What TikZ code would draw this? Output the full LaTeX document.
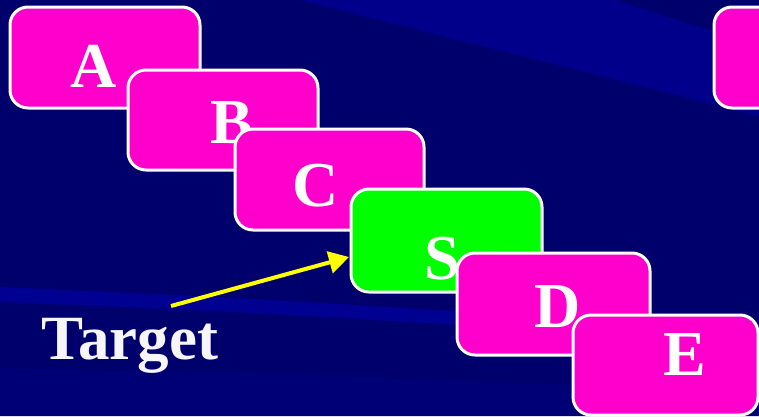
\documentclass[tikz,border=0pt]{standalone}
\usepackage{fontspec}
\setmainfont{Liberation Serif}
\usetikzlibrary{arrows.meta}

\definecolor{navy}{RGB}{0,0,108}
\definecolor{navyband}{RGB}{0,0,138}
\definecolor{navylow}{RGB}{0,0,118}
\definecolor{navystreak}{RGB}{0,0,145}
\definecolor{boxmagenta}{RGB}{255,0,204}
\definecolor{boxgreen}{RGB}{0,255,0}
\definecolor{arrowyellow}{RGB}{255,255,0}
\definecolor{offwhite}{RGB}{246,246,250}

\tikzset{
  card/.style={draw=white, line width=3pt, rounded corners=18pt},
  letter/.style={text=white, inner sep=0pt, anchor=base,
    font=\fontsize{64}{64}\selectfont\bfseries},
  pointer/.style={draw=arrowyellow, line width=4pt,
    -{Triangle[length=20pt,width=22pt]}, arrowyellow}
}

\begin{document}
\begin{tikzpicture}[x=1pt,y=-1pt]
  % backdrop and light streaks
  \fill[navy] (0,0) rectangle (759,416);
  \useasboundingbox (0,0) rectangle (759,416);
  \fill[navyband] (300,0) -- (615,0) -- (759,46) -- (759,116) -- cycle;
  \fill[navylow] (0,368) .. controls (250,372) .. (759,392) -- (759,416) -- (0,416) -- cycle;
  \fill[navystreak] (0,287) .. controls (250,298) .. (759,330)
    -- (759,344) .. controls (250,312) .. (0,302) -- cycle;

  % the row of cards, each one overlapping the previous
  \fill[boxmagenta, card] (714,7) rectangle (800,108);
  \fill[boxmagenta, card] (10,7) rectangle (200,108);
  \node[letter] (la) at (94,87) {A};
  \fill[boxmagenta, card] (128,70) rectangle (318,170);
  \node[letter] (lb) at (232,143) {B};
  \fill[boxmagenta, card] (235,129) rectangle (424,230);
  \node[letter] (lc) at (316,206) {C};
  \filldraw[boxgreen, card] (351,189) rectangle (542,292);
  \node[letter] (ls) at (442,279) {S};
  \coordinate (sleft) at (349,257);
  \fill[boxmagenta, card] (457,253) rectangle (650,355);
  \node[letter] (ld) at (558,327) {D};
  \fill[boxmagenta, card] (573,315) rectangle (758,415);
  \node[letter] (le) at (685,375) {E};

  % label and its pointer
  \node[text=offwhite, inner sep=0pt, anchor=base,
    font=\fontsize{63}{63}\selectfont\bfseries] (target) at (130,359) {Target};
  \coordinate (tail) at (171,306);
  \draw[pointer] (tail) -- (sleft);
\end{tikzpicture}
\end{document}
